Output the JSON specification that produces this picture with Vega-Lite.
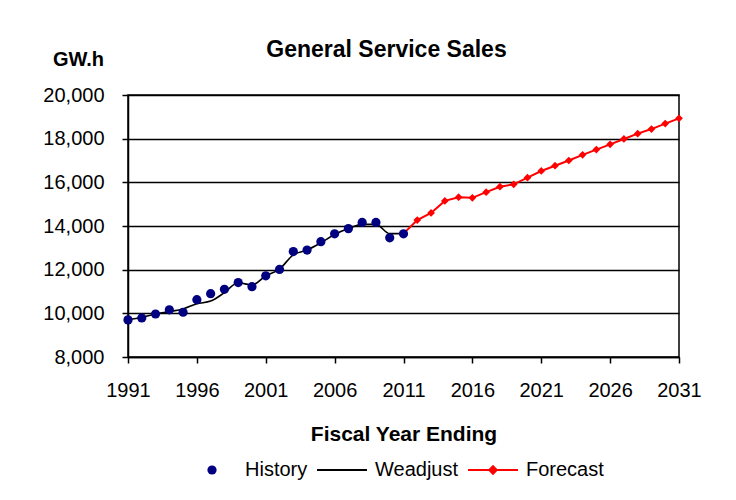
{
  "$schema": "https://vega.github.io/schema/vega-lite/v6.json",
  "width": 551,
  "height": 262,
  "autosize": {"type": "none"},
  "padding": {"left": 128, "top": 95, "right": 57, "bottom": 143},
  "background": "white",
  "config": {
    "font": "Liberation Sans",
    "view": {"stroke": "black", "strokeWidth": 1.5},
    "axis": {"labelFont": "Liberation Sans", "titleFont": "Liberation Sans", "labelColor": "black", "titleColor": "black", "domainColor": "black", "tickColor": "black", "domainWidth": 1.5, "tickWidth": 1.5}
  },
  "title": {
    "text": "General Service Sales",
    "font": "Liberation Sans",
    "fontSize": 23,
    "fontWeight": "bold",
    "color": "black",
    "anchor": "middle",
    "frame": "group",
    "dx": -17,
    "dy": 17,
    "offset": 4
  },
  "data": {
    "values": [
      {"year": 1991, "value": 9700, "series": "History"},
      {"year": 1992, "value": 9790, "series": "History"},
      {"year": 1993, "value": 9970, "series": "History"},
      {"year": 1994, "value": 10160, "series": "History"},
      {"year": 1995, "value": 10050, "series": "History"},
      {"year": 1996, "value": 10625, "series": "History"},
      {"year": 1997, "value": 10900, "series": "History"},
      {"year": 1998, "value": 11100, "series": "History"},
      {"year": 1999, "value": 11410, "series": "History"},
      {"year": 2000, "value": 11220, "series": "History"},
      {"year": 2001, "value": 11720, "series": "History"},
      {"year": 2002, "value": 12010, "series": "History"},
      {"year": 2003, "value": 12830, "series": "History"},
      {"year": 2004, "value": 12900, "series": "History"},
      {"year": 2005, "value": 13280, "series": "History"},
      {"year": 2006, "value": 13640, "series": "History"},
      {"year": 2007, "value": 13880, "series": "History"},
      {"year": 2008, "value": 14165, "series": "History"},
      {"year": 2009, "value": 14165, "series": "History"},
      {"year": 2010, "value": 13460, "series": "History"},
      {"year": 2011, "value": 13640, "series": "History"},
      {"year": 1991, "value": 9700, "series": "Weadjust"},
      {"year": 1992, "value": 9820, "series": "Weadjust"},
      {"year": 1993, "value": 9970, "series": "Weadjust"},
      {"year": 1994, "value": 10080, "series": "Weadjust"},
      {"year": 1995, "value": 10200, "series": "Weadjust"},
      {"year": 1996, "value": 10440, "series": "Weadjust"},
      {"year": 1997, "value": 10560, "series": "Weadjust"},
      {"year": 1998, "value": 10950, "series": "Weadjust"},
      {"year": 1999, "value": 11400, "series": "Weadjust"},
      {"year": 2000, "value": 11300, "series": "Weadjust"},
      {"year": 2001, "value": 11720, "series": "Weadjust"},
      {"year": 2002, "value": 12030, "series": "Weadjust"},
      {"year": 2003, "value": 12680, "series": "Weadjust"},
      {"year": 2004, "value": 12900, "series": "Weadjust"},
      {"year": 2005, "value": 13230, "series": "Weadjust"},
      {"year": 2006, "value": 13610, "series": "Weadjust"},
      {"year": 2007, "value": 13880, "series": "Weadjust"},
      {"year": 2008, "value": 14075, "series": "Weadjust"},
      {"year": 2009, "value": 14075, "series": "Weadjust"},
      {"year": 2010, "value": 13650, "series": "Weadjust"},
      {"year": 2011, "value": 13650, "series": "Weadjust"},
      {"year": 2011, "value": 13650, "series": "Forecast"},
      {"year": 2012, "value": 14270, "series": "Forecast"},
      {"year": 2013, "value": 14600, "series": "Forecast"},
      {"year": 2014, "value": 15150, "series": "Forecast"},
      {"year": 2015, "value": 15320, "series": "Forecast"},
      {"year": 2016, "value": 15290, "series": "Forecast"},
      {"year": 2017, "value": 15550, "series": "Forecast"},
      {"year": 2018, "value": 15800, "series": "Forecast"},
      {"year": 2019, "value": 15910, "series": "Forecast"},
      {"year": 2020, "value": 16215, "series": "Forecast"},
      {"year": 2021, "value": 16520, "series": "Forecast"},
      {"year": 2022, "value": 16760, "series": "Forecast"},
      {"year": 2023, "value": 17000, "series": "Forecast"},
      {"year": 2024, "value": 17260, "series": "Forecast"},
      {"year": 2025, "value": 17500, "series": "Forecast"},
      {"year": 2026, "value": 17740, "series": "Forecast"},
      {"year": 2027, "value": 17985, "series": "Forecast"},
      {"year": 2028, "value": 18230, "series": "Forecast"},
      {"year": 2029, "value": 18440, "series": "Forecast"},
      {"year": 2030, "value": 18690, "series": "Forecast"},
      {"year": 2031, "value": 18930, "series": "Forecast"}
    ]
  },
  "encoding": {
    "x": {
      "field": "year",
      "type": "quantitative",
      "scale": {"domain": [1991, 2031], "nice": false, "zero": false},
      "axis": {
        "title": "Fiscal Year Ending",
        "values": [1991, 1996, 2001, 2006, 2011, 2016, 2021, 2026, 2031],
        "format": "d",
        "grid": false,
        "tickSize": 6,
        "labelFontSize": 20,
        "labelPadding": 17,
        "labelFlush": false,
        "labelOverlap": false,
        "titleFontSize": 21,
        "titleFontWeight": "bold",
        "titlePadding": 23
      }
    },
    "y": {
      "field": "value",
      "type": "quantitative",
      "scale": {"domain": [8000, 20000], "nice": false, "zero": false},
      "axis": {
        "title": "GW.h",
        "values": [8000, 10000, 12000, 14000, 16000, 18000, 20000],
        "format": ",.0f",
        "grid": true,
        "gridColor": "black",
        "gridWidth": 1.5,
        "gridOpacity": 1,
        "tickSize": 6,
        "labelFontSize": 20,
        "labelPadding": 18,
        "labelFlush": false,
        "labelOverlap": false,
        "titleFontSize": 20,
        "titleFontWeight": "bold",
        "titleAngle": 0,
        "titleAlign": "center",
        "titleBaseline": "alphabetic",
        "titleX": -50,
        "titleY": -30
      }
    },
    "color": {
      "field": "series",
      "type": "nominal",
      "scale": {"domain": ["History", "Weadjust", "Forecast"], "range": ["#000080", "black", "#ff0000"]},
      "legend": {
        "title": null,
        "orient": "none",
        "legendX": 74,
        "legendY": 365,
        "direction": "horizontal",
        "labelFont": "Liberation Sans",
        "labelFontSize": 20,
        "labelColor": "black",
        "symbolSize": 2500,
        "symbolStrokeWidth": 2,
        "symbolOffset": 0,
        "labelOffset": 23,
        "columnPadding": 5,
        "encode": {
          "symbols": {
            "update": {
              "shape": {"signal": "datum.value === 'History' ? 'circle' : (datum.value === 'Weadjust' ? 'stroke' : 'M-1,0L1,0M0,-0.15L0.15,0L0,0.15L-0.15,0Z')"},
              "size": {"signal": "datum.value === 'History' ? 85 : 2500"},
              "fill": [{"test": "datum.value === 'Weadjust'", "value": "transparent"}, {"scale": "color", "field": "value"}],
              "stroke": {"scale": "color", "field": "value"},
              "strokeWidth": {"signal": "datum.value === 'History' ? 0 : 2"},
              "opacity": {"value": 1}
            }
          }
        }
      }
    }
  },
  "layer": [
    {
      "transform": [{"filter": "datum.series === 'Weadjust'"}],
      "mark": {"type": "line", "interpolate": "monotone", "strokeWidth": 1.6}
    },
    {
      "transform": [{"filter": "datum.series === 'Forecast'"}],
      "mark": {"type": "line", "strokeWidth": 2}
    },
    {
      "transform": [{"filter": "datum.series === 'Forecast'"}],
      "mark": {"type": "point", "shape": "diamond", "filled": true, "size": 60, "opacity": 1}
    },
    {
      "transform": [{"filter": "datum.series === 'History'"}],
      "mark": {"type": "point", "shape": "circle", "filled": true, "size": 85, "opacity": 1}
    }
  ]
}
